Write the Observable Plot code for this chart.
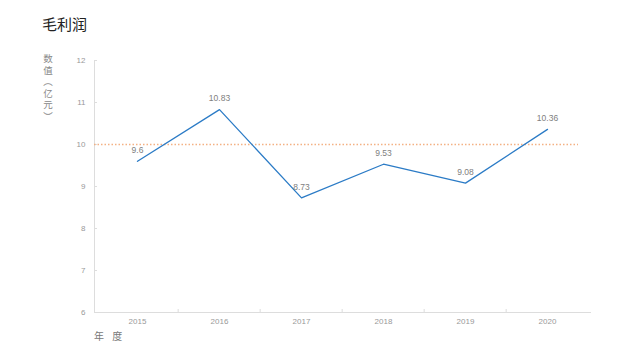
<!DOCTYPE html>
<html><head><meta charset="utf-8">
<script src="https://cdn.jsdelivr.net/npm/d3@7"></script>
<script src="https://cdn.jsdelivr.net/npm/@observablehq/plot@0.6"></script>
<style>
body{margin:0;background:#fff;}
#wrap{position:relative;width:640px;height:360px;overflow:hidden}
#title{position:absolute;left:42px;top:16px;font:15px "Noto Sans CJK SC",sans-serif;line-height:1;color:#222}
#ylab{position:absolute;left:42px;top:53px;width:12px;font:9.5px "Noto Sans CJK SC",sans-serif;line-height:11.5px;color:#888;white-space:pre-line;text-align:center}
#xlab{position:absolute;left:94px;top:331px;font:10px "Noto Sans CJK SC",sans-serif;line-height:1;color:#777;letter-spacing:3px}
#chart{position:absolute;left:0;top:0}
</style></head>
<body><div id="wrap"><div id="chart"></div><div id="title"></div><div id="ylab"></div><div id="xlab"></div></div>
<script>
const titleText = "毛利润";
const yLabelChars = ["数","值","︵","亿","元","︶"];  // stacked, vertical-form parentheses
const xLabel = "年 度";
const years = ["2015","2016","2017","2018","2019","2020"];
const values = [9.6, 10.83, 8.73, 9.53, 9.08, 10.36];
const refValue = 10;
const yTicks = [6,7,8,9,10,11,12];

document.getElementById("title").textContent = titleText;
document.getElementById("xlab").textContent = xLabel;
document.getElementById("ylab").textContent = yLabelChars.join("\n");

const data = years.map((y,i)=>({year:y, value:values[i]}));

const W = 640, H = 360, ML = 94, MR = 50, MT = 60, MB = 48;
const bandStep = (W - ML - MR) / years.length;

const chart = Plot.plot({
  width: W, height: H,
  marginLeft: ML, marginRight: MR, marginTop: MT, marginBottom: MB,
  style: {fontFamily: "'Liberation Sans', Arial, sans-serif", fontSize: "8px", background: "transparent"},
  x: {type: "point", domain: years, padding: 0.5, label: null},
  y: {domain: [6,12], label: null},
  marks: [
    Plot.axisX({tickSize: 0, tickPadding: 6, fill: "#999", fontSize: 8, label: null}),
    Plot.axisX({ticks: years.slice(1), tickSize: -3, stroke: "#ddd", text: null, dx: -bandStep/2, label: null}),
    Plot.axisY({ticks: yTicks, tickFormat: "d", tickSize: 0, tickPadding: 9, fill: "#999", fontSize: 8, label: null}),
    Plot.axisY({ticks: yTicks, tickSize: -3, stroke: "#ddd", text: null, label: null}),
    Plot.frame({anchor: "left", stroke: "#ddd"}),
    Plot.frame({anchor: "bottom", stroke: "#ddd"}),
    Plot.ruleY([refValue], {stroke: "#f4b183", strokeWidth: 1.5, strokeDasharray: "1.5,2", insetRight: 12}),
    Plot.line(data, {x: "year", y: "value", stroke: "#2b7bc6", strokeWidth: 1.3}),
    Plot.text(data, {x: "year", y: "value", text: d => String(d.value), dy: -11, fill: "#808080", fontSize: 8.5})
  ]
});
document.getElementById("chart").appendChild(chart);
</script></body></html>
